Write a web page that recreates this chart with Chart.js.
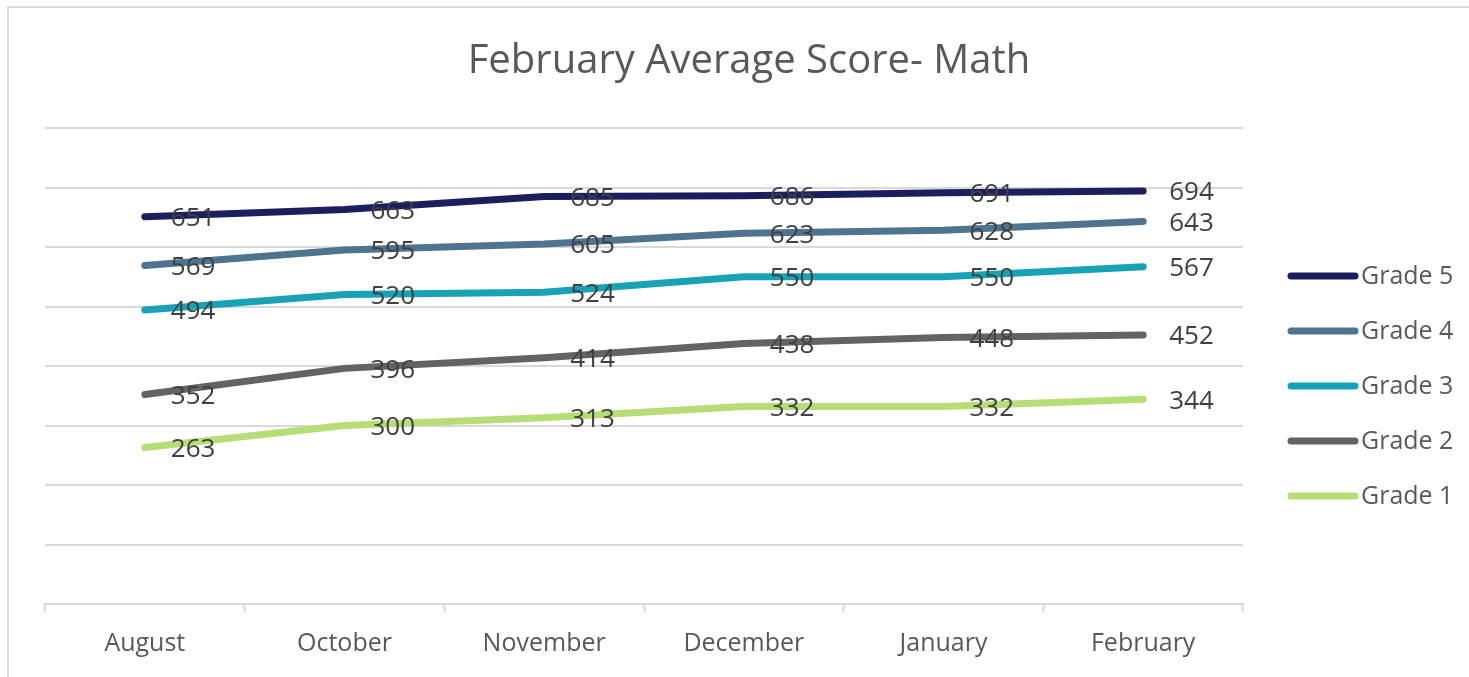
<!DOCTYPE html>
<html lang="en">
<head>
    <meta charset="UTF-8">
    <title>February Average Score- Math</title>
    <script src="https://cdn.jsdelivr.net/npm/chart.js@4.4.0/dist/chart.umd.min.js"></script>
    <style>
        body { margin: 0; background: #fff; }
        #wrap { position: relative; width: 1469px; height: 677px; overflow: hidden; }
        #frame { position: absolute; left: 7px; top: 6px; right: -10px; bottom: -10px;
                 border-top: 2px solid #dcdcdc; border-left: 2px solid #dcdcdc; pointer-events: none; }
        canvas { position: absolute; left: 0; top: 0; }
    </style>
</head>
<body>
    <div id="wrap">
        <canvas id="chart" width="1469" height="677"></canvas>
        <div id="frame"></div>
    </div>

    <script>
        // Données
        const months = ['August', 'October', 'November', 'December', 'January', 'February'];
        const grade5 = [651, 663, 685, 686, 691, 694];
        const grade4 = [569, 595, 605, 623, 628, 643];
        const grade3 = [494, 520, 524, 550, 550, 567];
        const grade2 = [352, 396, 414, 438, 448, 452];
        const grade1 = [263, 300, 313, 332, 332, 344];
        const seriesNames = ['Grade 5', 'Grade 4', 'Grade 3', 'Grade 2', 'Grade 1'];
        const seriesColors = ['#1c1f5e', '#4f7490', '#17a2b6', '#636363', '#b7dd76'];
        const yTicks = [0, 100, 200, 300, 400, 500, 600, 700, 800];
        const chartTitle = 'February Average Score- Math';

        const FONT = "'Open Sans', 'Liberation Sans', sans-serif";

        // titre centré sur toute la largeur (comme Excel)
        const pageTitle = {
            id: 'pageTitle',
            afterDraw(chart) {
                const ctx = chart.ctx;
                ctx.save();
                ctx.font = '40px ' + FONT;
                ctx.fillStyle = '#595959';
                ctx.textAlign = 'center';
                ctx.textBaseline = 'middle';
                ctx.fillText(chartTitle, 749, 62);
                ctx.restore();
            }
        };

        // étiquettes de valeurs à droite de chaque point
        const valueLabels = {
            id: 'valueLabels',
            afterDatasetsDraw(chart) {
                const ctx = chart.ctx;
                ctx.save();
                ctx.font = '26px ' + FONT;
                ctx.fillStyle = '#404040';
                ctx.textAlign = 'left';
                ctx.textBaseline = 'middle';
                chart.data.datasets.forEach((ds, i) => {
                    chart.getDatasetMeta(i).data.forEach((pt, j) => {
                        ctx.fillText(ds.data[j], pt.x + 26, pt.y + 2);
                    });
                });
                ctx.restore();
            }
        };

        // légende à droite, style Excel
        const sideLegend = {
            id: 'sideLegend',
            afterDraw(chart) {
                const ctx = chart.ctx;
                const area = chart.chartArea;
                const x0 = area.right + 45;
                let y = area.top + 148;
                ctx.save();
                ctx.font = '25px ' + FONT;
                ctx.textBaseline = 'middle';
                ctx.lineCap = 'round';
                chart.data.datasets.forEach(ds => {
                    ctx.strokeStyle = ds.borderColor;
                    ctx.lineWidth = 7;
                    ctx.beginPath();
                    ctx.moveTo(x0 + 3, y);
                    ctx.lineTo(x0 + 67, y);
                    ctx.stroke();
                    ctx.fillStyle = '#595959';
                    ctx.fillText(ds.label, x0 + 73, y + 1);
                    y += 55;
                });
                ctx.restore();
            }
        };

        const allData = [grade5, grade4, grade3, grade2, grade1];

        new Chart(document.getElementById('chart'), {
            type: 'line',
            data: {
                labels: months,
                datasets: allData.map((d, i) => ({
                    label: seriesNames[i],
                    data: d,
                    borderColor: seriesColors[i],
                    backgroundColor: seriesColors[i],
                    borderWidth: 7,
                    borderCapStyle: 'round',
                    borderJoinStyle: 'round',
                    pointRadius: 0,
                    tension: 0,
                    fill: false,
                    order: i
                }))
            },
            options: {
                responsive: false,
                animation: false,
                layout: { padding: { left: 45, right: 226, top: 128, bottom: 1 } },
                plugins: {
                    legend: { display: false },
                    tooltip: { enabled: false },
                    title: { display: false }
                },
                scales: {
                    x: {
                        offset: true,
                        grid: {
                            display: true,
                            offset: true,
                            drawOnChartArea: false,
                            drawTicks: true,
                            tickLength: 8,
                            tickColor: '#d9d9d9',
                            tickWidth: 2
                        },
                        border: { display: true, color: '#d9d9d9', width: 2 },
                        ticks: {
                            color: '#595959',
                            padding: 17,
                            font: { family: FONT, size: 25 }
                        }
                    },
                    y: {
                        min: yTicks[0],
                        max: yTicks[yTicks.length - 1],
                        afterBuildTicks: axis => { axis.ticks = yTicks.map(v => ({ value: v })); },
                        grid: { color: '#d9d9d9', lineWidth: 2, drawTicks: false },
                        border: { display: false },
                        ticks: { display: false }
                    }
                }
            },
            plugins: [valueLabels, sideLegend, pageTitle]
        });
    </script>
</body>
</html>
